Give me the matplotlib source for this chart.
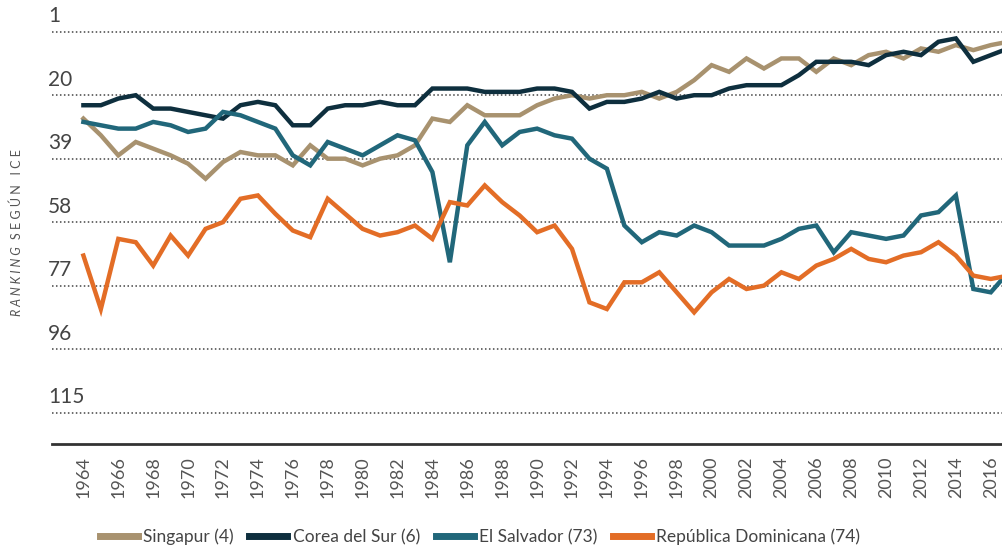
import matplotlib.pyplot as plt
import matplotlib.transforms as mtransforms
from matplotlib.lines import Line2D

years = list(range(1964, 2018))

singapur = [27, 32, 38, 34, 36, 38, 40.5, 45, 40, 37, 38, 38, 41, 35,
            39, 39, 41, 39, 38, 35, 27, 28, 23, 26, 26, 26, 23, 21,
            20, 21, 20, 20, 19, 21, 19, 15.5, 11, 13, 9, 12, 9, 9,
            13, 9, 11, 8, 7, 9, 6, 7, 5, 6.5, 5, 4]
corea = [23, 23, 21, 20, 24, 24, 25, 26, 27, 23, 22, 23, 29, 29,
         24, 23, 23, 22, 23, 23, 18, 18, 18, 19, 19, 19, 18, 18,
         19, 24, 22, 22, 21, 19, 21, 20, 20, 18, 17, 17, 17,
         14, 10, 10, 10, 11, 8, 7, 8, 4, 3, 10, 8, 6]
el_salvador = [28, 29, 30, 30, 28, 29, 31, 30, 25, 26, 28, 30, 38, 41,
               34, 36, 38, 35, 32, 33.5, 43, 70, 35, 28, 35, 31, 30, 32,
               33, 39, 42, 59, 64, 61, 62, 59, 61, 65, 65, 65, 63, 60,
               59, 67, 61, 62, 63, 62, 56, 55, 50, 78, 79, 73]
rep_dom = [68, 84, 63, 64, 71, 62, 68, 60, 58, 51, 50, 55.5, 60.5, 62.5,
           51, 55.5, 60, 62, 61, 59, 63, 52, 53, 47, 52, 56, 61, 59,
           66, 82, 84, 76, 76, 73, 79, 85, 79, 75, 78, 77, 73, 75,
           71, 69, 66, 69, 70, 68, 67, 64, 68, 74, 75, 74]

series = [
    ("Singapur (4)", singapur, "#A8926F"),
    ("Corea del Sur (6)", corea, "#0E2F3E"),
    ("El Salvador (73)", el_salvador, "#21677A"),
    ("República Dominicana (74)", rep_dom, "#E36D26"),
]

y_ticks = [1, 20, 39, 58, 77, 96, 115]
x_ticks = list(range(1964, 2017, 2))

plt.rcParams['font.family'] = ['Lato', 'DejaVu Sans']

fig = plt.figure(figsize=(10.03, 5.47), dpi=100)
ax = fig.add_axes([52 / 1003, 103 / 547, 951 / 1003, 444 / 547])

for y in y_ticks:
    ax.axhline(y, color="#444444", lw=1.1, linestyle=(0, (1, 1.6)), zorder=1)

for label, vals, col in series:
    ax.plot(years, vals, color=col, lw=3.2, solid_joinstyle='miter', zorder=3)

ax.set_xlim(1962.2, 2016.7)
ax.set_ylim(124.4, -8.5)

for s in ['top', 'right', 'left']:
    ax.spines[s].set_visible(False)
ax.spines['bottom'].set_color("#333333")
ax.spines['bottom'].set_linewidth(2)

ax.set_yticks([])
ax.set_xticks(x_ticks)
ax.set_xticklabels([str(x) for x in x_ticks], rotation=90, fontsize=13,
                   color="#555555")
ax.tick_params(axis='x', length=0, pad=9)

# y labels sit above the gridlines
trans = mtransforms.blended_transform_factory(ax.transAxes, ax.transData)
for y in y_ticks:
    ax.annotate(str(y), xy=(0, y), xycoords=trans, xytext=(-3, 4),
                textcoords='offset points', ha='left', va='bottom',
                fontsize=15, color="#444444")

# letter-spaced axis title
fig.text(17 / 1003, 1 - 316 / 547, " ".join("RANKING"), style='italic',
         rotation=90, ha='center', va='bottom', fontsize=9,
         color="#555555")
fig.text(17 / 1003, 1 - 239 / 547, " ".join("SEGÚN") + "   " + " ".join("ICE"),
         rotation=90, ha='center', va='bottom', fontsize=9,
         color="#555555")

handles = [Line2D([0], [0], color=c, lw=5) for _, _, c in series]
labels = [l for l, _, _ in series]
fig.legend(handles, labels, loc='center', ncol=4, frameon=False,
           bbox_to_anchor=(480 / 1003, 1 - 537 / 547), fontsize=12.5,
           handlelength=2.2, handletextpad=0.3, columnspacing=0.9,
           labelcolor="#444444")

fig.savefig("out.png", dpi=100)
